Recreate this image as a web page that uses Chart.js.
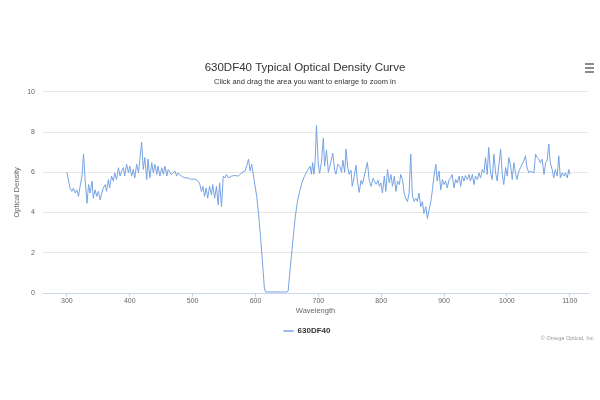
<!DOCTYPE html>
<html>
<head>
<meta charset="utf-8">
<script src="https://cdn.jsdelivr.net/npm/chart.js@4/dist/chart.umd.min.js"></script>
<style>
html,body{margin:0;padding:0;background:#fff;}
#wrap{width:600px;height:400px;position:relative;}
</style>
</head>
<body>
<div id="wrap"><canvas id="c" width="600" height="400"></canvas></div>
<script>
const titleText = "630DF40 Typical Optical Density Curve";
const subtitleText = "Click and drag the area you want to enlarge to zoom in";
const seriesName = "630DF40";
const xAxisTitle = "Wavelength";
const yAxisTitle = "Optical Density";
const creditText = "\u00A9 Omega Optical, Inc.";
const xTickValues = [300, 400, 500, 600, 700, 800, 900, 1000, 1100];
const yTickValues = [0, 2, 4, 6, 8, 10];

const wavelengths = [
 300,305,308,310.6,313,316,318.5,321,324,326.5,329,332,334.5,337,340,342,345,347.5,350,353,
 355.5,358,361,363,366,368,371,374,376,379,382,384.6,387,390,392,395,398,400,403,405.6,
 408,411,414,416,419,421.5,424,427,429,432,435,437.5,440,443,445,448,451,453.5,456,459,
 461,466,472,474.5,477,482,488,493,498,503.5,508.8,511,514,516.5,519,521.5,524,527,530,532,
 535,538,540.7,543,546,548.7,551,554,557,562,567.7,573,578,583.5,586,589,591.5,594,596.5,599,
 602,605,608,611,614,616,620,630,640,650,652,654,658,663,667,670,674,678,681,683,
 687,689,691,693,695,697,700,702,705,708,710,713,716,719,723,726,728,731,734,737,
 739,742,744,747,749,752,754,757,760,762,765,768,770,773,778,781,784,787,792,795,
 797,799.5,802,805,807.4,810,812.8,815.5,818,821,823.5,826,829,831,834,836.5,839,841.8,844.4,847,
 849.7,852.4,855,857.6,860,863,865.5,868,871,873.5,876,879,881.5,884,887,889,892,894.7,897.5,900,
 902.6,905,908,910.5,913,915.8,918.5,921,924,926.4,929,931.7,934,937,939.7,942,945,947.6,950,953,
 955.6,958,961,963.4,966,968.7,971,974,976.6,979.3,982,984.6,987,990,992.6,995,998,1000.5,1003,1006,
 1008.5,1011,1013.6,1016,1019,1021.6,1024,1027,1029.5,1032,1035,1037.5,1043,1045.6,1048,1050.8,1053,1056,1059,1061.6,
 1064,1066.6,1069,1072,1074.5,1077,1080,1082.5,1085,1088,1090.5,1093,1096,1098.5,1100
];
const density = [
 6.0,5.22,5.05,5.22,4.97,5.13,4.8,5.3,5.81,6.9,5.64,4.46,5.39,4.97,5.56,4.71,5.13,4.8,5.05,4.63,
 4.97,5.22,5.39,5.05,5.64,5.22,5.81,5.56,5.97,5.64,6.23,5.81,6.06,6.23,5.81,6.4,5.97,6.31,5.81,6.14,
 5.72,6.4,5.97,6.65,7.49,6.14,6.73,5.64,6.65,5.72,6.48,5.97,6.4,5.89,6.31,5.81,6.23,5.89,6.31,5.81,
 6.14,5.89,6.06,5.81,5.97,5.81,5.72,5.72,5.64,5.67,5.56,5.47,5.05,5.3,4.8,5.22,4.71,5.3,4.88,5.39,
 4.71,5.3,4.38,5.47,4.29,5.81,5.72,5.89,5.72,5.81,5.84,5.81,5.97,6.06,6.31,6.65,6.06,6.4,5.89,5.39,
 4.8,3.9,2.8,1.6,0.3,0.05,0.05,0.05,0.05,0.05,0.1,0.8,2.1,3.7,4.6,5.0,5.5,5.8,6.0,6.1,
 6.3,5.9,6.48,5.9,6.6,8.33,6.4,5.95,6.5,7.7,6.3,7.1,6.0,6.4,6.95,6.1,5.9,6.4,6.3,6.0,
 6.6,6.0,7.15,6.2,5.9,6.1,5.3,5.8,6.35,5.6,5.0,5.6,5.4,5.8,6.5,5.6,5.3,5.7,5.4,5.6,
 5.3,5.47,4.97,5.81,5.05,6.14,5.47,5.89,5.3,5.81,5.05,5.56,5.39,5.89,5.64,4.97,4.71,4.55,4.97,6.9,
 4.8,4.55,4.71,4.55,4.97,4.29,4.55,3.96,4.29,3.7,4.12,4.55,5.13,5.81,6.4,5.56,6.06,5.13,5.64,5.39,
 5.56,5.22,5.64,5.72,5.89,5.22,5.64,5.47,5.81,5.3,5.81,5.56,5.84,5.64,5.89,5.56,5.89,5.39,5.81,5.64,
 5.97,5.72,6.14,5.97,6.73,5.89,7.24,5.97,5.64,6.9,5.97,5.56,6.31,7.15,5.89,5.39,6.23,5.81,6.73,6.31,
 5.64,6.48,5.97,5.64,6.06,6.23,6.4,6.57,6.82,6.23,5.97,6.06,5.97,6.9,6.73,6.65,6.48,6.65,5.89,6.48,
 6.57,7.4,6.48,6.14,5.72,6.14,5.81,6.82,5.72,5.97,5.81,5.97,5.72,6.14,5.9
];

const points = wavelengths.map((w, i) => ({x: w, y: density[i]}));
const FONT = "'Liberation Sans', Arial, sans-serif";
const LINE = '#76a3e3';

const extras = {
  id: 'extras',
  afterLayout(chart) {
    chart.boxes.forEach(b => {
      if (b === chart.legend) { b.left += 13; b.right += 13; }
      else if (b.position === 'top' && b.options && b.options.text !== undefined) { b.left += 11; b.right += 11; }
    });
  },
  afterDraw(chart) {
    const ctx = chart.ctx;
    ctx.save();
    ctx.strokeStyle = '#666';
    ctx.lineWidth = 1.6;
    ctx.beginPath();
    [64, 68, 72].forEach(y => { ctx.moveTo(585, y); ctx.lineTo(594, y); });
    ctx.stroke();
    ctx.fillStyle = '#999';
    ctx.font = "5.5px " + FONT;
    ctx.textAlign = 'right';
    ctx.textBaseline = 'middle';
    ctx.fillText(creditText, 595, 338);
    ctx.restore();
  }
};

new Chart(document.getElementById('c'), {
  type: 'line',
  data: {
    datasets: [{
      label: seriesName,
      data: points,
      borderColor: LINE,
      backgroundColor: LINE,
      borderWidth: 1,
      pointRadius: 0,
      tension: 0,
      fill: false
    }]
  },
  options: {
    responsive: false,
    animation: false,
    layout: { padding: { left: 0, right: 12, top: 0, bottom: 55 } },
    plugins: {
      title: {
        display: true, text: titleText, color: '#333',
        font: { family: FONT, size: 11.5, weight: 'normal' },
        padding: { top: 61, bottom: 0 }
      },
      subtitle: {
        display: true, text: subtitleText, color: '#333',
        font: { family: FONT, size: 7.5, weight: 'normal' },
        padding: { top: 2.5, bottom: 5.5 }
      },
      legend: {
        display: true, position: 'bottom',
        labels: {
          color: '#333', font: { family: FONT, size: 8, weight: 'bold' },
          boxWidth: 10, boxHeight: 0, padding: 12,
          generateLabels() {
            return [{ text: seriesName, strokeStyle: LINE, fillStyle: LINE, lineWidth: 1, hidden: false, datasetIndex: 0, fontColor: '#333' }];
          }
        }
      },
      tooltip: { enabled: false }
    },
    scales: {
      x: {
        type: 'linear', min: 262, max: 1129,
        afterBuildTicks(scale) { scale.ticks = xTickValues.map(v => ({ value: v })); },
        afterFit(scale) { scale.height = 22; },
        grid: { drawOnChartArea: false, drawTicks: true, tickLength: 4, color: '#ccd6eb' },
        border: { display: true, color: '#ccd6eb', width: 1 },
        ticks: { color: '#666', font: { family: FONT, size: 7 }, padding: 0, maxRotation: 0, autoSkip: false,
                 callback: v => String(v) },
        title: { display: true, text: xAxisTitle, color: '#666', font: { family: FONT, size: 7.5 }, padding: { top: 0, bottom: 0 } }
      },
      y: {
        min: 0, max: 10,
        afterBuildTicks(scale) { scale.ticks = yTickValues.map(v => ({ value: v })); },
        afterFit(scale) { scale.width = 43; },
        grid: { color: '#e6e6e6', drawTicks: false, lineWidth: 1 },
        border: { display: false },
        ticks: { color: '#666', font: { family: FONT, size: 7 }, padding: 8, callback: v => String(v) },
        title: { display: true, text: yAxisTitle, color: '#666', font: { family: FONT, size: 7.5 }, padding: { top: 12, bottom: 0 } }
      }
    }
  },
  plugins: [extras]
});
</script>
</body>
</html>
